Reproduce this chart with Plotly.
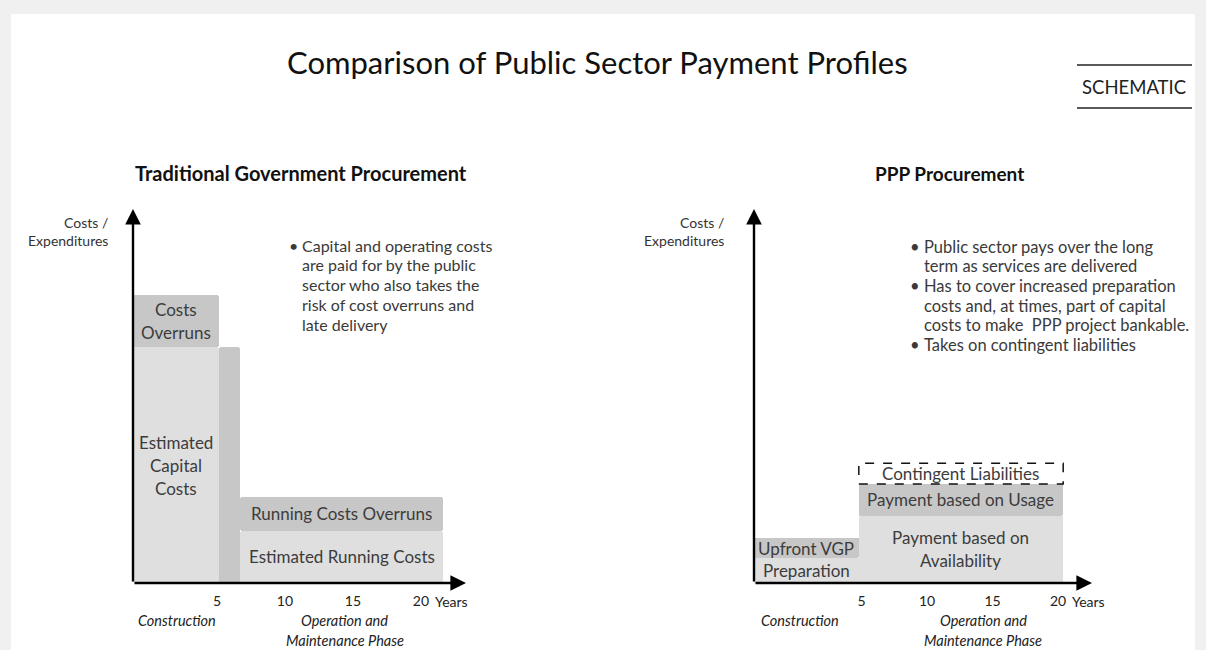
import plotly.graph_objects as go

W, H = 1206, 650

# ---------------- data ----------------
tick_years = [5, 10, 15, 20]
tick_text = ["5", "10", "15", "20"]

# Traditional Government Procurement (x in years, y in cost units)
trad_labels = ["Estimated<br>Capital<br>Costs", "Costs<br>Overruns", "",
               "Estimated Running Costs", "Running Costs Overruns"]
trad_start = [0.0, 0.0, 6.3, 7.9, 7.9]
trad_end = [6.3, 6.3, 7.9, 22.8, 22.8]
trad_base = [0, 63, 0, 0, 14]
trad_top = [63, 77, 63, 14, 23]
trad_kind = ["estimate", "overrun", "overrun", "estimate", "overrun"]

# PPP Procurement
ppp_labels = ["Preparation", "Upfront VGP", "Payment based on<br>Availability",
              "Payment based on Usage", "Contingent Liabilities"]
ppp_start = [0.0, 0.0, 8.0, 8.0, 8.0]
ppp_end = [8.0, 8.0, 23.6, 23.6, 23.6]
ppp_base = [0, 6.7, 0, 18, 26.5]
ppp_top = [6.7, 12, 18, 26.5, 32]
ppp_kind = ["estimate", "overrun", "estimate", "overrun", "contingent"]

trad_notes = ["Capital and operating costs", "are paid for by the public",
              "sector who also takes the", "risk of cost overruns and", "late delivery"]
trad_bullets = [0]
ppp_notes = ["Public sector pays over the long", "term as services are delivered",
             "Has to cover increased preparation", "costs and, at times, part of capital",
             "costs to make  PPP project bankable.", "Takes on contingent liabilities"]
ppp_bullets = [0, 2, 5]

# ---------------- styling ----------------
FONT = "Lato"
COLORS = {"estimate": "#dfdfdf", "overrun": "#c7c7c7", "contingent": "#ffffff"}
LABEL_COLOR = "#3c3c3c"
NOTE_COLOR = "#3a3a3a"


def px(x):
    return x / W


def py(y):
    return 1 - y / H


fig = go.Figure()
annotations = []
shapes = []

# white panel
shapes.append(dict(type="rect", xref="paper", yref="paper", x0=px(11), x1=px(1195),
                   y0=0, y1=py(14), fillcolor="white", line=dict(width=0), layer="below"))


def add_bars(labels, start, end, base, top, kind, xa, ya, radius):
    for lab, a, b, lo, hi, k in zip(labels, start, end, base, top, kind):
        if k == "contingent":
            shapes.append(dict(type="rect", xref=xa, yref=ya, x0=a, x1=b, y0=lo, y1=hi,
                               fillcolor="white", line=dict(color="#111111", width=1.5, dash="dash")))
        else:
            fig.add_trace(go.Bar(x=[(a + b) / 2], y=[hi - lo], base=[lo], width=[b - a],
                                 marker=dict(color=COLORS[k], line=dict(width=0), cornerradius=radius),
                                 xaxis=xa, yaxis=ya, showlegend=False, hoverinfo="skip"))
        if lab:
            lines = lab.split("<br>")
            n = len(lines)
            for i, line in enumerate(lines):
                annotations.append(dict(x=(a + b) / 2, y=(lo + hi) / 2, xref=xa, yref=ya,
                                        text=line, showarrow=False, xanchor="center", yanchor="middle",
                                        yshift=((n - 1) / 2 - i) * 23,
                                        font=dict(family=FONT, size=17, color=LABEL_COLOR)))


add_bars(trad_labels, trad_start, trad_end, trad_base, trad_top, trad_kind, "x", "y", 3)
add_bars(ppp_labels, ppp_start, ppp_end, ppp_base, ppp_top, ppp_kind, "x2", "y2", 2)

# axes arrows
for xa, ya, xmax, shift in (("x", "y", 24.49, 16), ("x2", "y2", 25.8, 42)):
    annotations.append(dict(x=xmax, y=0, ax=0, ay=0, xref=xa, yref=ya, axref=xa, ayref=ya,
                            showarrow=True, arrowhead=2, arrowsize=1.3, arrowwidth=2.4,
                            arrowcolor="#000000", text=""))
    annotations.append(dict(x=0, y=100, ax=0, ay=0, xref=xa, yref=ya, axref=xa, ayref=ya,
                            showarrow=True, arrowhead=2, arrowsize=1.3, arrowwidth=2.4,
                            arrowcolor="#000000", text=""))
    annotations.append(dict(x=20, y=0, xref=xa, yref=ya, text="Years", showarrow=False,
                            xanchor="left", yanchor="top",
                            xshift=shift + 12, yshift=-8,
                            font=dict(family=FONT, size=14, color="#222222")))


def txt(x, y, text, size, color="#333333", xanchor="center", align="center"):
    annotations.append(dict(x=px(x), y=py(y), xref="paper", yref="paper", text=text,
                            showarrow=False, xanchor=xanchor, yanchor="middle", align=align,
                            font=dict(family=FONT, size=size, color=color)))


# titles
txt(597, 62, "Comparison of Public Sector Payment Profiles", 31, "#111111")
txt(1134, 87, "SCHEMATIC", 18.5, "#222222")
shapes.append(dict(type="line", xref="paper", yref="paper", x0=px(1077), x1=px(1192),
                   y0=py(65), y1=py(65), line=dict(color="#222222", width=1.5)))
shapes.append(dict(type="line", xref="paper", yref="paper", x0=px(1077), x1=px(1192),
                   y0=py(108), y1=py(108), line=dict(color="#222222", width=1.5)))
txt(301, 173, "<b>Traditional Government Procurement</b>", 20, "#111111")
txt(949, 173, "<b>PPP Procurement</b>", 19, "#111111")

# y-axis titles
for xr in (110, 726):
    txt(xr, 222, "Costs /", 14, xanchor="right")
    txt(xr, 240, "Expenditures", 14, xanchor="right")

# bullet notes
for i, line in enumerate(trad_notes):
    y = 245 + 19.8 * i
    if i in trad_bullets:
        txt(287, y, "•", 16, NOTE_COLOR, xanchor="left")
    txt(300, y, line, 16, NOTE_COLOR, xanchor="left")
for i, line in enumerate(ppp_notes):
    y = 247 + 19.5 * i
    if i in ppp_bullets:
        txt(908, y, "•", 16.5, NOTE_COLOR, xanchor="left")
    txt(922, y, line, 16.5, NOTE_COLOR, xanchor="left")

# phase labels
for xc, xo in ((177, 345), (800, 983)):
    txt(xc, 620, "<i>Construction</i>", 14.5, "#222222")
    txt(xo, 620, "<i>Operation and</i>", 14.5, "#222222")
    txt(xo, 640, "<i>Maintenance Phase</i>", 14.5, "#222222")

ydom = [py(583), py(209)]
axis_common = dict(showgrid=False, zeroline=False, showline=False, fixedrange=True)
fig.update_layout(
    width=W, height=H, margin=dict(l=0, r=0, t=0, b=0),
    paper_bgcolor="#f0f0f0", plot_bgcolor="rgba(0,0,0,0)",
    barmode="overlay", bargap=0,
    xaxis=dict(domain=[px(133), px(466)], range=[0, 24.49], anchor="y",
               tickvals=tick_years, ticktext=tick_text, ticks="", ticklabelshift=16,
               ticklabelstandoff=8, tickfont=dict(family=FONT, size=14, color="#222222"), **axis_common),
    yaxis=dict(domain=ydom, range=[0, 100], anchor="x", showticklabels=False, **axis_common),
    xaxis2=dict(domain=[px(754), px(1092)], range=[0, 25.8], anchor="y2",
                tickvals=tick_years, ticktext=tick_text, ticks="", ticklabelshift=42,
                ticklabelstandoff=8, tickfont=dict(family=FONT, size=14, color="#222222"), **axis_common),
    yaxis2=dict(domain=ydom, range=[0, 100], anchor="x2", showticklabels=False, **axis_common),
    shapes=shapes, annotations=annotations, showlegend=False,
)

fig.write_html("out.html", config={"displayModeBar": False},
               post_script="document.body.style.margin='0';document.body.style.background='#f0f0f0';"
                           "document.documentElement.style.overflow='hidden';")
